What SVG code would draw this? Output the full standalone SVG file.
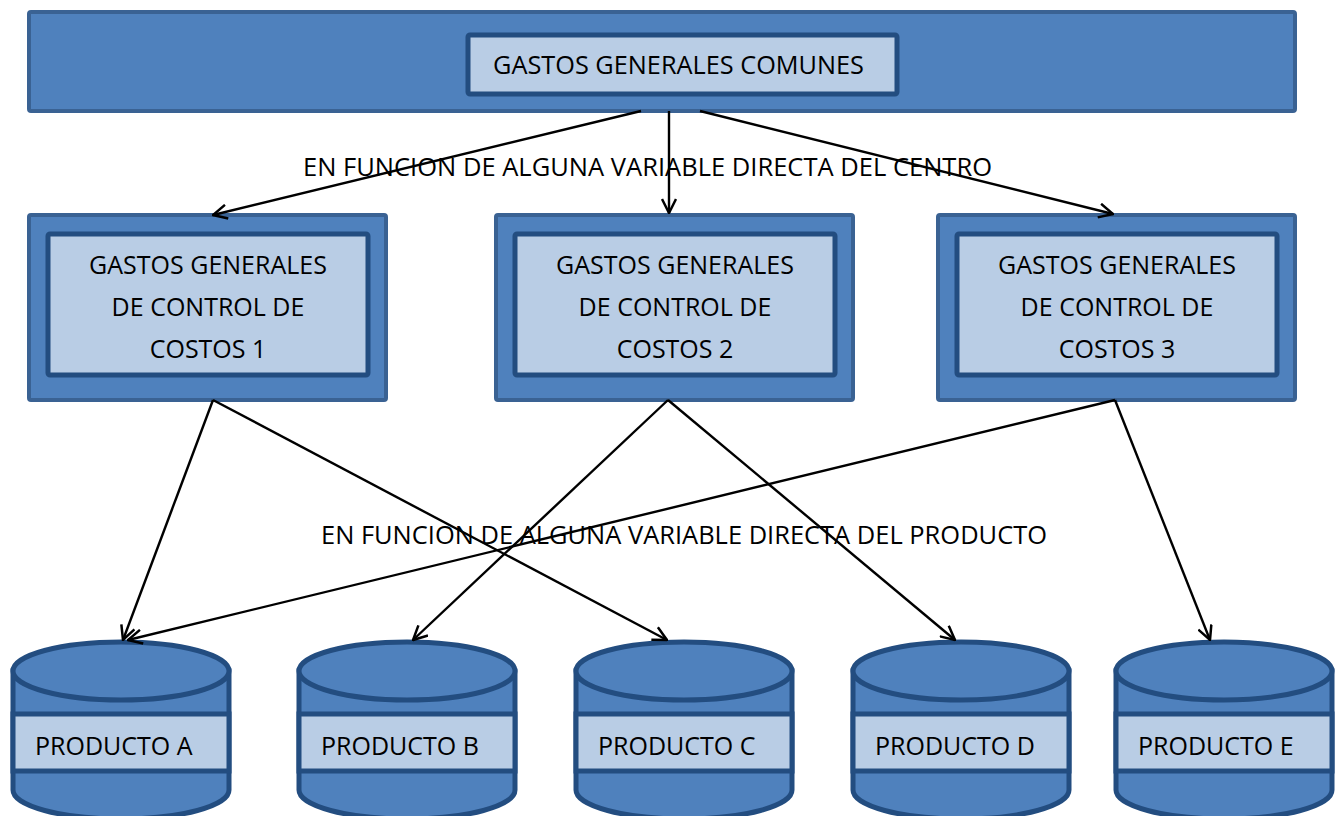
<svg xmlns="http://www.w3.org/2000/svg" width="1341" height="816" viewBox="0 0 1341 816">
<style>
.outer{fill:#4f81bd;stroke:#3a6293;stroke-width:4}
.inner{fill:#b9cde5;stroke:#234d80;stroke-width:5}
.cyl{fill:#4f81bd;stroke:#234d80;stroke-width:5}
.band{fill:#b9cde5;stroke:#234d80;stroke-width:5}
.t{font-family:"Open Sans","Liberation Sans",sans-serif;font-size:25px;fill:#000}
.c{stroke:#000;stroke-width:2.4;fill:none;marker-end:url(#ah)}
</style>
<defs>
<marker id="ah" markerUnits="userSpaceOnUse" viewBox="0 0 16 16" refX="15" refY="8" markerWidth="16" markerHeight="16" orient="auto">
<path d="M1,1 L15,8 L1,15" fill="none" stroke="#000" stroke-width="2.5"/>
</marker>
</defs>
<rect width="1341" height="816" fill="#fff"/>
<g id="top">
<rect class="outer" x="29" y="12" width="1266" height="99" rx="2"/>
<rect class="inner" x="468" y="35" width="429" height="59" rx="2"/>
<text class="t" x="493" y="74" textLength="371" lengthAdjust="spacingAndGlyphs">GASTOS GENERALES COMUNES</text>
</g>
<g id="centro1">
<rect class="outer" x="29" y="215" width="357" height="185" rx="2"/>
<rect class="inner" x="48" y="234" width="320" height="141" rx="2"/>
<text class="t" text-anchor="middle" x="208" y="274">GASTOS GENERALES</text>
<text class="t" text-anchor="middle" x="208" y="316">DE CONTROL DE</text>
<text class="t" text-anchor="middle" x="208" y="358">COSTOS 1</text>
</g>
<g id="centro2">
<rect class="outer" x="496" y="215" width="357" height="185" rx="2"/>
<rect class="inner" x="515" y="234" width="320" height="141" rx="2"/>
<text class="t" text-anchor="middle" x="675" y="274">GASTOS GENERALES</text>
<text class="t" text-anchor="middle" x="675" y="316">DE CONTROL DE</text>
<text class="t" text-anchor="middle" x="675" y="358">COSTOS 2</text>
</g>
<g id="centro3">
<rect class="outer" x="938" y="215" width="357" height="185" rx="2"/>
<rect class="inner" x="957" y="234" width="320" height="141" rx="2"/>
<text class="t" text-anchor="middle" x="1117" y="274">GASTOS GENERALES</text>
<text class="t" text-anchor="middle" x="1117" y="316">DE CONTROL DE</text>
<text class="t" text-anchor="middle" x="1117" y="358">COSTOS 3</text>
</g>
<g id="productoA">
<path class="cyl" d="M13,671 L13,790 A108,29 0 0 0 229,790 L229,671 Z"/>
<ellipse class="cyl" cx="121" cy="671" rx="108" ry="29"/>
<rect class="band" x="13" y="714" width="216" height="57"/>
<text class="t" x="35" y="755">PRODUCTO A</text>
</g>
<g id="productoB">
<path class="cyl" d="M299,671 L299,790 A108,29 0 0 0 515,790 L515,671 Z"/>
<ellipse class="cyl" cx="407" cy="671" rx="108" ry="29"/>
<rect class="band" x="299" y="714" width="216" height="57"/>
<text class="t" x="321" y="755">PRODUCTO B</text>
</g>
<g id="productoC">
<path class="cyl" d="M576,671 L576,790 A108,29 0 0 0 792,790 L792,671 Z"/>
<ellipse class="cyl" cx="684" cy="671" rx="108" ry="29"/>
<rect class="band" x="576" y="714" width="216" height="57"/>
<text class="t" x="598" y="755">PRODUCTO C</text>
</g>
<g id="productoD">
<path class="cyl" d="M853,671 L853,790 A108,29 0 0 0 1069,790 L1069,671 Z"/>
<ellipse class="cyl" cx="961" cy="671" rx="108" ry="29"/>
<rect class="band" x="853" y="714" width="216" height="57"/>
<text class="t" x="875" y="755">PRODUCTO D</text>
</g>
<g id="productoE">
<path class="cyl" d="M1116,671 L1116,790 A108,29 0 0 0 1332,790 L1332,671 Z"/>
<ellipse class="cyl" cx="1224" cy="671" rx="108" ry="29"/>
<rect class="band" x="1116" y="714" width="216" height="57"/>
<text class="t" x="1138" y="755">PRODUCTO E</text>
</g>
<g id="labels">
<text class="t" x="303" y="176" textLength="689" lengthAdjust="spacingAndGlyphs">EN FUNCION DE ALGUNA VARIABLE DIRECTA DEL CENTRO</text>
<text class="t" x="321" y="544" textLength="726" lengthAdjust="spacingAndGlyphs">EN FUNCION DE ALGUNA VARIABLE DIRECTA DEL PRODUCTO</text>
</g>
<g id="connectors">
<line class="c" x1="641" y1="111" x2="213" y2="215"/>
<line class="c" x1="669" y1="111" x2="669" y2="213"/>
<line class="c" x1="700" y1="111" x2="1113" y2="214"/>
<line class="c" x1="213" y1="400" x2="123" y2="640"/>
<line class="c" x1="213" y1="400" x2="667" y2="640"/>
<line class="c" x1="668" y1="400" x2="413" y2="640"/>
<line class="c" x1="668" y1="400" x2="955" y2="640"/>
<line class="c" x1="1115" y1="400" x2="128" y2="640"/>
<line class="c" x1="1115" y1="400" x2="1210" y2="640"/>
</g>
</svg>
